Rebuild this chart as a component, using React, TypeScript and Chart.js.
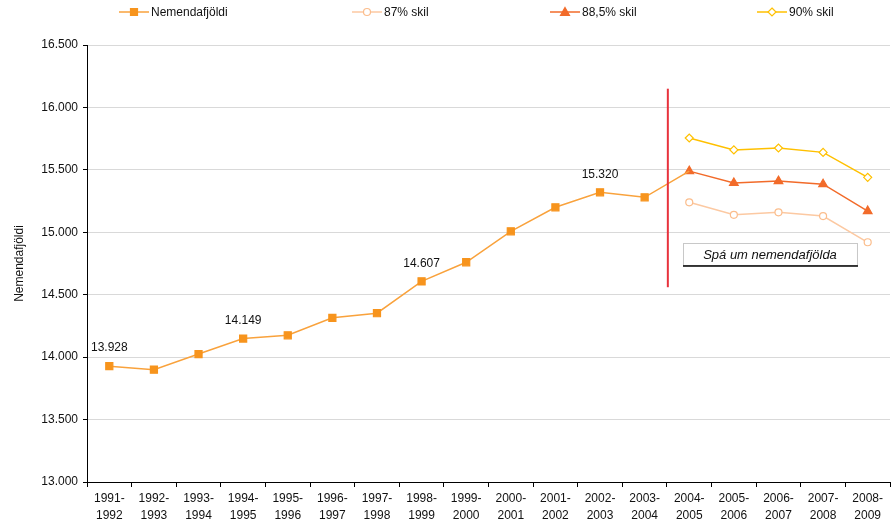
import React, { useEffect, useRef } from "react";
import { Chart, registerables } from "chart.js";

Chart.register(...registerables);

const categories: string[][] = [
  ["1991-", "1992"], ["1992-", "1993"], ["1993-", "1994"], ["1994-", "1995"],
  ["1995-", "1996"], ["1996-", "1997"], ["1997-", "1998"], ["1998-", "1999"],
  ["1999-", "2000"], ["2000-", "2001"], ["2001-", "2002"], ["2002-", "2003"],
  ["2003-", "2004"], ["2004-", "2005"], ["2005-", "2006"], ["2006-", "2007"],
  ["2007-", "2008"], ["2008-", "2009"],
];

const nemendafjoldi: (number | null)[] = [
  13928, 13900, 14025, 14149, 14175, 14315, 14352, 14607, 14760, 15008,
  15200, 15320, 15280, 15490, null, null, null, null,
];
const skil87: (number | null)[] = [
  null, null, null, null, null, null, null, null, null, null, null, null, null,
  15240, 15140, 15160, 15130, 14920,
];
const skil885: (number | null)[] = [
  null, null, null, null, null, null, null, null, null, null, null, null, null,
  15490, 15395, 15410, 15385, 15170,
];
const skil90: (number | null)[] = [
  null, null, null, null, null, null, null, null, null, null, null, null, null,
  15755, 15660, 15675, 15640, 15440,
];

const labelledIndices = [0, 3, 7, 11];
const yTicks = { min: 13000, max: 16500, step: 500 };
const forecastLine = { index: 12.52, from: 16150, to: 14560 };
const forecastBox = { x0: 12.86, x1: 16.76, y0: 14913, y1: 14737, text: "Spá um nemendafjölda" };
const seriesNames = ["Nemendafjöldi", "87% skil", "88,5% skil", "90% skil"];

const FONT = '"Liberation Sans", Arial, sans-serif';

const fmt = (v: number) => String(Math.round(v)).replace(/\B(?=(\d{3})+(?!\d))/g, ".");

function marker(ctx: CanvasRenderingContext2D, kind: string, x: number, y: number, stroke: string, fill: string) {
  ctx.save();
  ctx.lineWidth = 1.2;
  ctx.strokeStyle = stroke;
  ctx.fillStyle = fill;
  ctx.beginPath();
  if (kind === "rect") {
    ctx.rect(x - 3.5, y - 3.5, 7, 7);
  } else if (kind === "circle") {
    ctx.arc(x, y, 3.5, 0, Math.PI * 2);
  } else if (kind === "triangle") {
    ctx.moveTo(x, y - 4.5);
    ctx.lineTo(x + 4.5, y + 3.5);
    ctx.lineTo(x - 4.5, y + 3.5);
    ctx.closePath();
  } else {
    ctx.moveTo(x, y - 4);
    ctx.lineTo(x + 4, y);
    ctx.lineTo(x, y + 4);
    ctx.lineTo(x - 4, y);
    ctx.closePath();
  }
  ctx.fill();
  ctx.stroke();
  ctx.restore();
}

export default function App() {
  const ref = useRef<HTMLCanvasElement>(null);

  useEffect(() => {
    if (!ref.current) return;
    const colors = [
      { line: "#F9A23C", stroke: "#F7941D", fill: "#F7941D", kind: "rect" },
      { line: "#FCC9A2", stroke: "#FBBD8C", fill: "#FFFFFF", kind: "circle" },
      { line: "#F26B2A", stroke: "#F26B2A", fill: "#F26B2A", kind: "triangle" },
      { line: "#FFC000", stroke: "#FFC000", fill: "#FFFFFF", kind: "diamond" },
    ];
    const legendPos = [119, 352, 550, 757];

    const overlay = {
      id: "overlay",
      afterDatasetsDraw(chart: any) {
        const ctx = chart.ctx as CanvasRenderingContext2D;
        const xs = chart.scales.x;
        const ys = chart.scales.y;
        const lx = xs.getPixelForValue(forecastLine.index);
        ctx.save();
        ctx.strokeStyle = "#E8323C";
        ctx.lineWidth = 2;
        ctx.beginPath();
        ctx.moveTo(lx, ys.getPixelForValue(forecastLine.from));
        ctx.lineTo(lx, ys.getPixelForValue(forecastLine.to));
        ctx.stroke();
        ctx.restore();

        ctx.save();
        ctx.font = `12px ${FONT}`;
        ctx.fillStyle = "#111";
        ctx.textAlign = "center";
        ctx.textBaseline = "bottom";
        for (const i of labelledIndices) {
          const v = nemendafjoldi[i] as number;
          ctx.fillText(fmt(v), xs.getPixelForValue(i), ys.getPixelForValue(v) - 12);
        }
        ctx.restore();

        const bx0 = xs.getPixelForValue(forecastBox.x0);
        const bx1 = xs.getPixelForValue(forecastBox.x1);
        const by0 = ys.getPixelForValue(forecastBox.y0);
        const by1 = ys.getPixelForValue(forecastBox.y1);
        ctx.save();
        ctx.fillStyle = "#FFFFFF";
        ctx.fillRect(bx0, by0, bx1 - bx0, by1 - by0);
        ctx.strokeStyle = "#C8C8C8";
        ctx.lineWidth = 1;
        ctx.strokeRect(Math.round(bx0) + 0.5, Math.round(by0) + 0.5, bx1 - bx0, by1 - by0);
        ctx.strokeStyle = "#000";
        ctx.lineWidth = 1.5;
        ctx.beginPath();
        ctx.moveTo(bx0, by1 + 1);
        ctx.lineTo(bx1 + 1, by1 + 1);
        ctx.stroke();
        ctx.font = `italic 13px ${FONT}`;
        ctx.fillStyle = "#111";
        ctx.textAlign = "center";
        ctx.textBaseline = "middle";
        ctx.fillText(forecastBox.text, (bx0 + bx1) / 2, (by0 + by1) / 2 + 1);
        ctx.restore();

        ctx.save();
        ctx.font = `12px ${FONT}`;
        ctx.textBaseline = "middle";
        ctx.textAlign = "left";
        const ly = 12;
        seriesNames.forEach((name, k) => {
          const c = colors[k];
          const x = legendPos[k];
          ctx.strokeStyle = c.line;
          ctx.lineWidth = 1.5;
          ctx.beginPath();
          ctx.moveTo(x, ly);
          ctx.lineTo(x + 30, ly);
          ctx.stroke();
          marker(ctx, c.kind, x + 15, ly, c.stroke, c.fill);
          ctx.fillStyle = "#111";
          ctx.fillText(name, x + 32, ly + 0.5);
        });
        ctx.restore();
      },
    };

    const ds = (label: string, data: (number | null)[], k: number, pointStyle: string, radius: any) => ({
      label,
      data,
      borderColor: colors[k].line,
      backgroundColor: colors[k].fill,
      pointBackgroundColor: colors[k].fill,
      pointBorderColor: colors[k].stroke,
      pointBorderWidth: 1.2,
      borderWidth: 1.5,
      pointStyle,
      pointRadius: radius,
      spanGaps: false,
    });

    const mainRadius = nemendafjoldi.map((_, i) => (i >= 13 ? 0 : 5));

    const chart = new Chart(ref.current, {
      type: "line",
      data: {
        labels: categories,
        datasets: [
          ds(seriesNames[1], skil87, 1, "circle", 3.5),
          ds(seriesNames[3], skil90, 3, "rectRot", 4),
          ds(seriesNames[0], nemendafjoldi, 0, "rect", mainRadius),
          ds(seriesNames[2], skil885, 2, "triangle", 5),
        ] as any,
      },
      options: {
        animation: false,
        responsive: false,
        maintainAspectRatio: false,
        layout: { autoPadding: false, padding: { top: 45, left: 0, right: 2, bottom: 0 } },
        plugins: { legend: { display: false }, tooltip: { enabled: false } },
        scales: {
          x: {
            type: "category",
            offset: true,
            grid: { offset: true, drawOnChartArea: false, tickLength: 5, color: "#000", tickColor: "#000" },
            border: { color: "#000", width: 1 },
            ticks: {
              maxRotation: 0,
              autoSkip: false,
              padding: 3,
              color: "#111",
              font: { family: FONT, size: 12, lineHeight: 1.4 },
            },
            afterFit: (s: any) => { s.height = 37; s.paddingRight = 0; s.paddingLeft = 0; },
          },
          y: {
            min: yTicks.min,
            max: yTicks.max,
            ticks: {
              stepSize: yTicks.step,
              color: "#111",
              padding: 5,
              font: { family: FONT, size: 12 },
              callback: (v: any) => fmt(Number(v)),
            },
            grid: { color: "#D9D9D9", tickColor: "#000", tickLength: 4 },
            border: { color: "#000", width: 1 },
            title: {
              display: true,
              text: "Nemendafjöldi",
              color: "#111",
              font: { family: FONT, size: 12 },
              padding: { top: 12, bottom: 0 },
            },
            afterFit: (s: any) => { s.width = 87; s.paddingTop = 0; s.paddingBottom = 0; },
          },
        },
      },
      plugins: [overlay],
    });
    return () => chart.destroy();
  }, []);

  return (
    <div style={{ position: "fixed", left: 0, top: 0, width: 892, height: 519, background: "#fff" }}>
      <canvas ref={ref} width={892} height={519} style={{ width: 892, height: 519 }} />
    </div>
  );
}
